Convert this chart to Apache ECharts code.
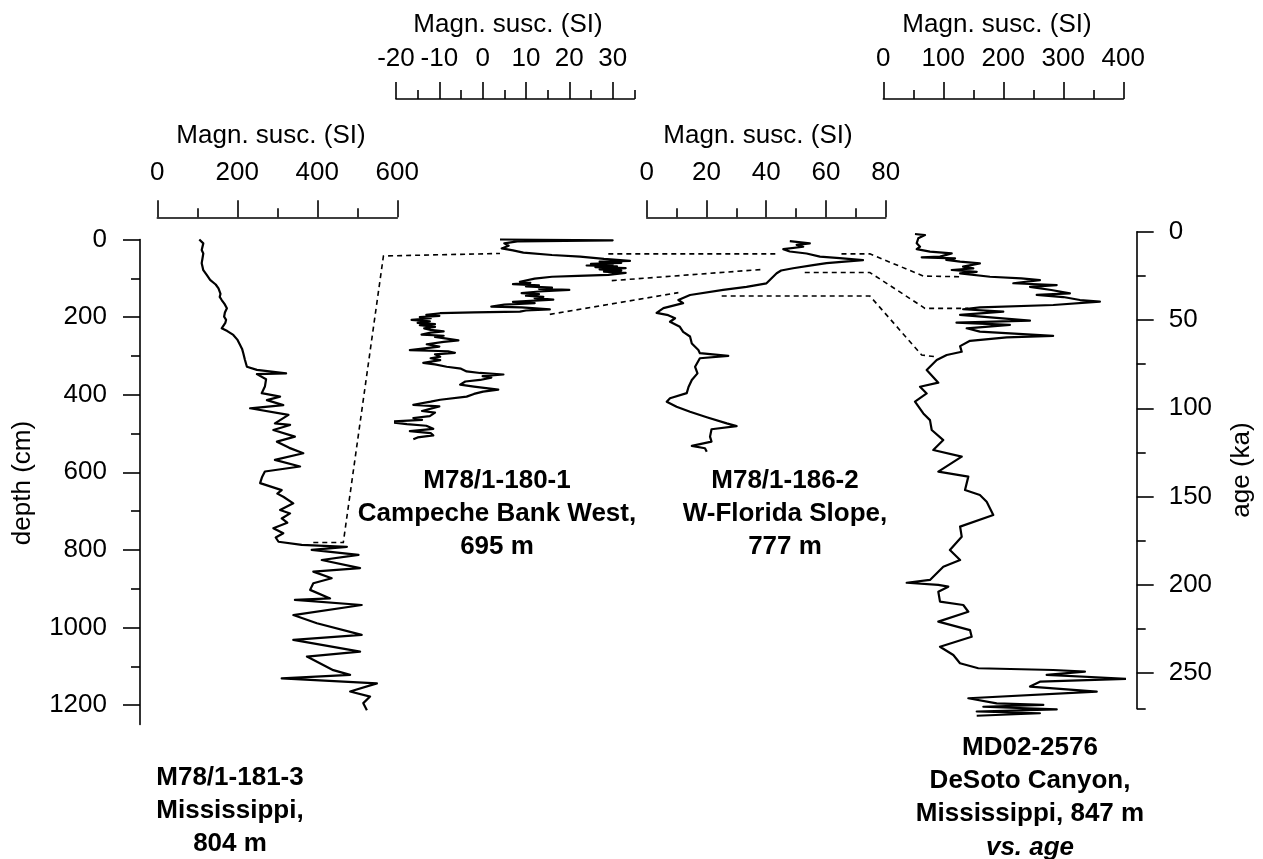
<!DOCTYPE html>
<html>
<head>
<meta charset="utf-8">
<title>Magnetic susceptibility records, Gulf of Mexico</title>
<script src="https://cdn.jsdelivr.net/npm/echarts@6/dist/echarts.min.js"></script>
<style>
  html, body { margin: 0; padding: 0; background: #fff; }
  #chart { width: 1263px; height: 859px; }
</style>
</head>
<body>
<div id="chart"></div>
<script>
// ---- Data: [magnetic susceptibility (SI), depth (cm)] ----
const core181 = [[105,0],[103,3],[115,10],[111,27],[115,36],[111,61],[115,79],[124,92],[132,104],[146,116],[153,126],[158,140],[156,148],[161,156],[168,166],[174,177],[169,188],[167,199],[172,207],[170,215],[161,229],[175,236],[190,246],[200,258],[207,272],[212,282],[215,293],[219,310],[224,328],[249,336],[322,345],[249,347],[272,360],[269,379],[261,396],[307,405],[274,414],[315,427],[232,435],[328,452],[294,474],[332,478],[290,491],[344,508],[299,521],[330,537],[365,551],[294,568],[357,585],[269,598],[262,612],[257,628],[311,646],[300,655],[315,663],[340,680],[307,697],[332,706],[311,719],[325,730],[290,744],[315,757],[296,768],[303,779],[361,787],[474,792],[386,800],[503,813],[411,826],[507,847],[390,856],[436,873],[390,886],[382,903],[432,925],[344,929],[511,942],[340,968],[399,989],[511,1019],[340,1032],[507,1062],[374,1075],[440,1110],[482,1122],[311,1131],[549,1144],[482,1165],[532,1178],[515,1195],[524,1213]];

const core180 = [[4,0],[30,2],[8,5],[5,10],[6,16],[4.4,23],[7,28],[9.4,34],[16,40],[22.5,44],[28,50],[34,55],[27,57],[32,60],[25,63],[30,65],[24,67],[31,69],[26,71],[33,74],[27,77],[32,80],[28,83],[33,86],[29,91],[22,94],[16,96],[12,101],[8.6,109],[11,112],[7,115],[13,118],[10,121],[16,124],[13,127],[20,130],[13,134],[9,138],[13,141],[10,145],[14,148],[12,151],[16.3,155],[11,158],[7,161],[12,164],[5,168],[2,173],[9,175],[15.5,180],[10,183],[8.6,186],[-2,188],[-9.8,190],[-13,194],[-10,197],[-14.5,200],[-12,203],[-16.4,207],[-12.2,211],[-15,215],[-11,218],[-14.5,221],[-11,225],[-13.5,229],[-12,233],[-9,237],[-12,240],[-14.1,245],[-9,248],[-11,251],[-5.6,260],[-9,264],[-12.9,270],[-10,276],[-16.8,285],[-8,288],[-6.4,292],[-11,296],[-9.8,302],[-12,306],[-9.8,311],[-13.7,318],[-11,322],[-8.3,328],[-5,333],[-3.7,340],[-0.6,344],[4.8,348],[0,352],[2,356],[-0.6,362],[-4,366],[-5.2,374],[-2,379],[3.6,387],[0.1,392],[-2,398],[-3.7,405],[-9.8,413],[-12,418],[-16,426],[-10,430],[-9.8,435],[-14,442],[-11,446],[-12.2,455],[-16,460],[-14,465],[-22.1,470],[-17.5,476],[-13,480],[-11.4,488],[-16.8,494],[-12,499],[-11.4,505],[-15,510],[-16,515]];

const core186 = [[47.9,4],[54.6,9.8],[50.2,14],[52.4,18.6],[45.7,25],[47.9,31],[53.5,36],[58,44],[64.6,48],[72.4,53],[60.2,61],[55.7,66],[49,74],[45,80],[43.5,87],[41.8,100],[40.1,113],[33.4,122],[25.6,130],[14.5,143],[10.6,156],[12.2,164],[5.6,177],[3.3,189],[7.2,195],[9.5,203],[7.8,212],[11.1,225],[12.2,238],[14.5,250],[15.1,268],[17.3,285],[17.8,293],[27.3,300],[17.8,306],[16.2,328],[17,345],[15.1,362],[14,380],[13.4,396],[7.8,409],[6.7,418],[10,431],[14.5,444],[20.1,458],[26.8,474],[30.1,481],[21.7,489],[21.2,508],[21.7,521],[15.1,532],[19.5,538],[20.1,547]];

// ---- Data: [magnetic susceptibility (SI), age (ka)] ----
const md022576 = [[52.8,1.3],[69.5,1.9],[58.3,3.7],[55.7,6.5],[61.2,8.5],[55.7,9.9],[77.8,11.3],[114,12.3],[94.5,14.1],[64,14.5],[119.5,15.1],[105,16],[128,16.9],[161,17.9],[133,19.8],[150,20.8],[114,21.7],[155.7,22.7],[128,23.6],[177.8,25.5],[230,26.4],[261,27.4],[216.7,29.2],[289,30.2],[244.5,31.2],[280,33],[311,34.9],[255.7,35.8],[300,37],[327.8,38.7],[361,39.6],[283.3,41.5],[161,42.9],[133,43.9],[200,45.3],[128,47.1],[244.5,50.4],[122,51.5],[211,52.8],[139,54.7],[161,56.6],[283,59],[205.7,59.8],[144.5,61.8],[128,64.8],[130.7,68],[105.7,69.8],[89,72.7],[72.3,78.3],[91.7,85.5],[61.2,87.8],[72.3,91.6],[52.8,96.2],[66.7,102.9],[77.8,106.7],[80.7,112.3],[100,118],[83.3,123.6],[130.7,127.4],[91.7,135.9],[141.7,138.7],[136.2,146.3],[161,149.1],[172.3,152.9],[183.3,160.4],[128,167],[130.7,172.7],[111,180.2],[128,185.9],[100,189.7],[77.8,197.2],[39,198.8],[91.7,200],[108.3,201],[91.7,203.9],[94.5,209.5],[133.3,211.4],[141.7,215.2],[91.7,220.8],[144.5,225.6],[147.3,229.4],[94.5,235],[116.7,239.7],[127.8,244.4],[158.3,247.2],[283.3,248.2],[336,249.1],[272.3,251],[408,253.2],[261,254.8],[244.5,257.6],[355.7,260.4],[141.7,264.2],[189,267.1],[266.7,268],[166.7,269],[289,270.5],[155.7,271.7],[261,272.7],[155.7,274.1]];

// ---- Tick values ----
const depthMajor = [0,200,400,600,800,1000,1200];
const depthMinor = [100,300,500,700,900,1100];
const ageMajor = [0,50,100,150,200,250];
const ageMinor = [25,75,125,175,225,270];
const ms181Major = [0,200,400,600];
const ms181Minor = [100,300,500];
const ms180Major = [-20,-10,0,10,20,30];
const ms180Minor = [-15,-5,5,15,25,35];
const ms186Major = [0,20,40,60,80];
const ms186Minor = [10,30,50,70];
const md02Major = [0,100,200,300,400];
const md02Minor = [50,150,250,350];

// ---- Tie points between cores: [core, susceptibility, depth or age] ----
// core: 0 = M78/1-181-3, 1 = M78/1-180-1, 2 = M78/1-186-2, 3 = MD02-2576
const ties = [
  [[0,390,781],[0,465,781],[1,-22.9,42.5],[1,4,36]],
  [[1,29,37],[2,43.5,37]],
  [[1,29.8,106],[2,39,77]],
  [[1,15.5,193],[2,10.6,137]],
  [[2,65.2,37],[2,74.7,37],[3,66.7,25.1],[3,128,25.5]],
  [[2,52.9,85],[2,74.7,85],[3,69.5,43.4],[3,141.7,43.4]],
  [[2,25.1,145.6],[2,74.7,145.6],[3,64,69.8],[3,86.2,70.8]]
];

const FONT = '"Liberation Sans", Arial, Helvetica, sans-serif';
const FS = 26;
const BLACK = '#000';

const chart = echarts.init(document.getElementById('chart'), null, { renderer: 'canvas' });

// Panel layout (pixels)
const panels = [
  { left: 157.3, width: 240,   top: 239.5, height: 485.0 }, // 181-3, depth 0-1250
  { left: 396,   width: 238.3, top: 239.5, height: 485.0 }, // 180-1, depth 0-1250
  { left: 646.7, width: 239,   top: 239.5, height: 485.0 }, // 186-2, depth 0-1250
  { left: 883.3, width: 240,   top: 231.7, height: 476.8 }  // MD02-2576, age 0-270
];

const plain = v => String(v);

function xPair(gridIndex, min, max, majors, minors, offset, margin) {
  const base = { type: 'value', gridIndex, min, max, position: 'top', offset,
                 splitLine: { show: false } };
  return [
    Object.assign({}, base, {
      axisLine: { show: true, onZero: false, lineStyle: { color: BLACK, width: 1.6 } },
      axisTick: { show: true, length: 17, customValues: majors, lineStyle: { color: BLACK, width: 1.6 } },
      axisLabel: { show: true, customValues: majors, margin, color: BLACK, fontSize: FS,
                   fontFamily: FONT, formatter: plain }
    }),
    Object.assign({}, base, {
      axisLine: { show: false, onZero: false },
      axisTick: { show: true, length: 9, customValues: minors, lineStyle: { color: BLACK, width: 1.6 } },
      axisLabel: { show: false }
    })
  ];
}

function yPair(gridIndex, max, majors, minors, position, offset, margin) {
  const base = { type: 'value', gridIndex, min: 0, max, inverse: true, position, offset,
                 splitLine: { show: false } };
  return [
    Object.assign({}, base, {
      axisLine: { show: true, onZero: false, lineStyle: { color: BLACK, width: 1.6 } },
      axisTick: { show: true, length: 17, customValues: majors, lineStyle: { color: BLACK, width: 1.6 } },
      axisLabel: { show: true, customValues: majors, margin, color: BLACK, fontSize: FS,
                   fontFamily: FONT, formatter: plain }
    }),
    Object.assign({}, base, {
      axisLine: { show: false, onZero: false },
      axisTick: { show: true, length: 9, customValues: minors, lineStyle: { color: BLACK, width: 1.6 } },
      axisLabel: { show: false }
    })
  ];
}

function hiddenY(gridIndex) {
  return { type: 'value', gridIndex, min: 0, max: 1250, inverse: true, show: false };
}

const xAxes = [].concat(
  xPair(0, 0, 600, ms181Major, ms181Minor, 22.2, 31),
  xPair(1, -20, 35, ms180Major, ms180Minor, 140.5, 27),
  xPair(2, 0, 80, ms186Major, ms186Minor, 22.2, 31),
  xPair(3, 0, 400, md02Major, md02Minor, 132.7, 27)
);
const yAxes = [].concat(
  yPair(0, 1250, depthMajor, depthMinor, 'left', 17.3, 33),
  [hiddenY(1), hiddenY(2)],
  yPair(3, 270, ageMajor, ageMinor, 'right', 13.4, 32)
);

// axis indices used by each core: [xAxisIndex, yAxisIndex]
const coreAxes = [[0, 0], [2, 2], [4, 3], [6, 4]];

function curve(data, core) {
  return {
    type: 'line', data, xAxisIndex: coreAxes[core][0], yAxisIndex: coreAxes[core][1],
    showSymbol: false, symbol: 'none', clip: false, animation: false, silent: true,
    lineStyle: { color: BLACK, width: 2.2, join: 'round' }
  };
}

chart.setOption({
  backgroundColor: '#fff',
  animation: false,
  grid: panels.map(p => Object.assign({ containLabel: false, show: false }, p)),
  xAxis: xAxes,
  yAxis: yAxes,
  series: [curve(core181, 0), curve(core180, 1), curve(core186, 2), curve(md022576, 3)]
});

// Tie lines, placed through each core's own axes
const tieGraphics = ties.map((tie, i) => ({
  type: 'polyline',
  id: 'tie' + i,
  silent: true,
  shape: { points: tie.map(([core, x, y]) => chart.convertToPixel(
    { xAxisIndex: coreAxes[core][0], yAxisIndex: coreAxes[core][1] }, [x, y])) },
  style: { stroke: BLACK, lineWidth: 1.6, lineDash: [5, 4], fill: null }
}));

function txt(id, x, y, text, opts) {
  return {
    type: 'text', id, x, y, silent: true,
    style: Object.assign({ text, fill: BLACK, font: FS + 'px ' + FONT,
                           textAlign: 'center', textVerticalAlign: 'middle' }, opts || {})
  };
}
function bold(id, x, y, text, lh) {
  return txt(id, x, y, text, { font: 'bold ' + FS + 'px ' + FONT, lineHeight: lh || 33,
                               textVerticalAlign: 'top' });
}

const labels = [
  txt('t181', 271, 136, 'Magn. susc. (SI)'),
  txt('t180', 508, 25, 'Magn. susc. (SI)'),
  txt('t186', 758, 136, 'Magn. susc. (SI)'),
  txt('tmd', 997, 25, 'Magn. susc. (SI)'),
  Object.assign(txt('ydepth', 23, 483, 'depth (cm)'), { rotation: Math.PI / 2 }),
  Object.assign(txt('yage', 1242, 470, 'age (ka)'), { rotation: Math.PI / 2 }),
  bold('c180', 497, 464, 'M78/1-180-1\nCampeche Bank West,\n695 m'),
  bold('c186', 785, 464, 'M78/1-186-2\nW-Florida Slope,\n777 m'),
  bold('c181', 230, 761, 'M78/1-181-3\nMississippi,\n804 m'),
  bold('cmd', 1030, 731, 'MD02-2576\nDeSoto Canyon,\nMississippi, 847 m'),
  txt('cmdage', 1030, 848, 'vs. age', { font: 'italic bold ' + FS + 'px ' + FONT })
];

chart.setOption({ graphic: { elements: labels.concat(tieGraphics) } });
</script>
</body>
</html>
